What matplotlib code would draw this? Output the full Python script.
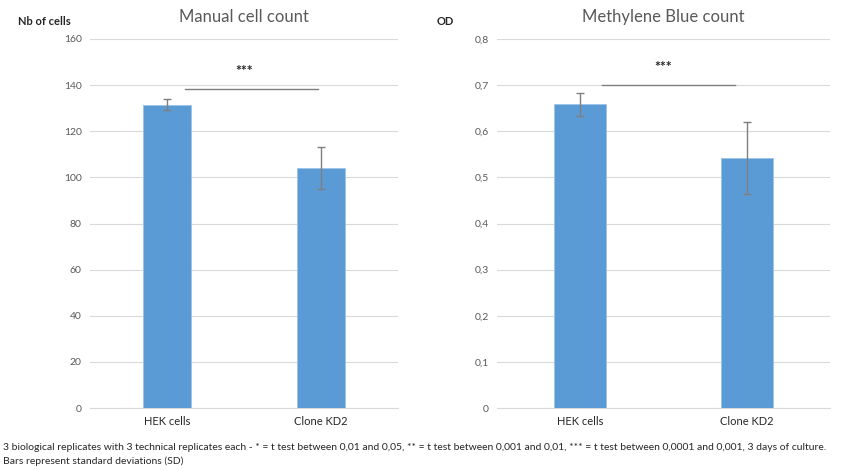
import matplotlib.pyplot as plt

plt.rcParams['font.family'] = ['Lato', 'DejaVu Sans']

categories = ['HEK cells', 'Clone KD2']

# left chart: manual cell count
manual_means = [131.5, 104]
manual_sd = [2.3, 9.2]
manual_ticks = [0, 20, 40, 60, 80, 100, 120, 140, 160]

# right chart: methylene blue OD
od_means = [0.658, 0.543]
od_sd = [0.025, 0.078]
od_ticks = [0, 0.1, 0.2, 0.3, 0.4, 0.5, 0.6, 0.7, 0.8]

bar_color = '#5B9BD5'
grey = '#7f7f7f'
txt_grey = '#595959'

fig = plt.figure(figsize=(8.54, 4.70), dpi=100)

def draw(ax, means, sd, ticks, title, ylabel, sig, star_y, fmt, lab_x):
    x = range(len(categories))
    ax.bar(x, means, width=0.31, color=bar_color, edgecolor='#9dc3e6', linewidth=0.6, zorder=3)
    ax.errorbar(x, means, yerr=sd, fmt='none', ecolor=grey, elinewidth=1.0,
                capsize=3, capthick=1.0, zorder=4)
    ax.set_xlim(-0.5, 1.5)
    ax.set_ylim(ticks[0], ticks[-1])
    ax.set_yticks(ticks)
    ax.set_yticklabels([fmt(t) for t in ticks], color=txt_grey, fontsize=7.5)
    ax.set_xticks(list(x))
    ax.set_xticklabels(categories, fontsize=8, color='#262626')
    ax.tick_params(length=0, pad=6)
    ax.grid(axis='y', color='#d9d9d9', linewidth=0.8, zorder=0)
    for s in ['top', 'right', 'left']:
        ax.spines[s].set_visible(False)
    ax.spines['bottom'].set_color('#d9d9d9')
    ax.set_title(title, color=txt_grey, fontsize=12, pad=12)
    # significance bar
    ax.plot([sig[0], sig[1]], [sig[2], sig[2]], color=grey, linewidth=1.0, zorder=4)
    ax.text(0.5, star_y, '***', ha='center', va='center', fontsize=10,
            fontweight='bold', color='#262626')
    fig.text(lab_x, 0.955, ylabel, fontsize=8, color='#262626', va='center', fontweight='bold')

ax1 = fig.add_axes([90 / 854, 1 - 408 / 470, 308 / 854, 369 / 470])
draw(ax1, manual_means, manual_sd, manual_ticks, 'Manual cell count', 'Nb of cells',
     (0.12, 0.98, 138.3), 146, lambda t: str(int(t)), 18 / 854)

ax2 = fig.add_axes([497 / 854, 1 - 408 / 470, 333 / 854, 369 / 470])
draw(ax2, od_means, od_sd, od_ticks, 'Methylene Blue count', 'OD',
     (0.13, 0.93, 0.70), 0.74, lambda t: ('%g' % t).replace('.', ','), 437 / 854)

fig.text(3 / 854, 1 - 447 / 470,
         '3 biological replicates with 3 technical replicates each - * = t test between 0,01 and 0,05, '
         '** = t test between 0,001 and 0,01, *** = t test between 0,0001 and 0,001, 3 days of culture.',
         fontsize=7.5, va='center', color='#262626')
fig.text(3 / 854, 1 - 461 / 470, 'Bars represent standard deviations (SD)',
         fontsize=7.5, va='center', color='#262626')

fig.savefig('out.png', dpi=100)
